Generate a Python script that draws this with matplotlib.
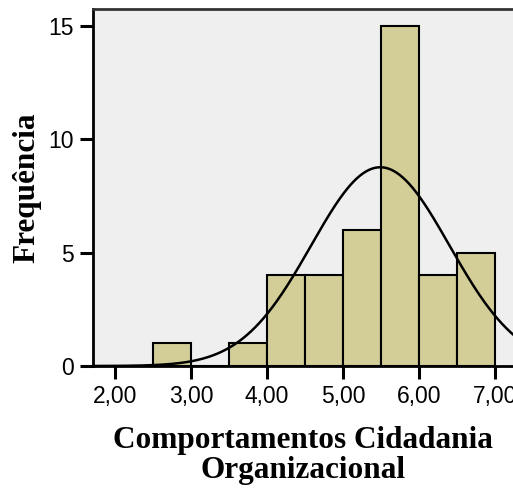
import numpy as np
import matplotlib.pyplot as plt

# histogram bins (lower edges) and counts
bin_lefts = [2.5, 3.0, 3.5, 4.0, 4.5, 5.0, 5.5, 6.0, 6.5]
counts = [1, 0, 1, 4, 4, 6, 15, 4, 5]
bin_width = 0.5

# fitted normal curve parameters
mean = 5.49
std_dev = 0.91
n_cases = 40

x_ticks = [2, 3, 4, 5, 6, 7]
x_tick_labels = ["2,00", "3,00", "4,00", "5,00", "6,00", "7,00"]
y_ticks = [0, 5, 10, 15]


def main():
    fig = plt.figure(figsize=(5.13, 4.88), dpi=100)
    ax = fig.add_axes([93 / 513, 122 / 488, 1 - 93 / 513, (366 - 9) / 488])
    ax.set_facecolor("#efefef")

    ax.bar(bin_lefts, counts, width=bin_width, align="edge",
           color="#d3ce97", edgecolor="black", linewidth=1.5, zorder=2)

    xs = np.linspace(1.7, 7.3, 400)
    ys = n_cases * bin_width / (std_dev * np.sqrt(2 * np.pi)) * np.exp(-(xs - mean) ** 2 / (2 * std_dev ** 2))
    ax.plot(xs, ys, color="black", linewidth=1.8, zorder=3)

    ax.set_xlim(1.71, 7.236)
    ax.set_ylim(0, 15.75)

    ax.set_xticks(x_ticks)
    ax.set_xticklabels(x_tick_labels, fontfamily="Liberation Sans", fontsize=16.5)
    ax.set_yticks(y_ticks)
    ax.set_yticklabels([str(v) for v in y_ticks], fontfamily="Liberation Sans", fontsize=16.5)
    ax.tick_params(direction="out", length=9.5, width=2.2, pad=4)

    ax.spines["right"].set_visible(False)
    for side in ["left", "bottom", "top"]:
        ax.spines[side].set_linewidth(2)
    ax.spines["top"].set_color("#333333")

    ax.set_xlabel("Comportamentos Cidadania\nOrganizacional", fontfamily="Liberation Serif",
                  fontweight="bold", fontsize=22.5, linespacing=1.05, labelpad=13)
    ax.set_ylabel("Frequência", fontfamily="Liberation Serif", fontweight="bold",
                  fontsize=22.5, labelpad=5)

    fig.savefig("out.png", dpi=100)


main()
